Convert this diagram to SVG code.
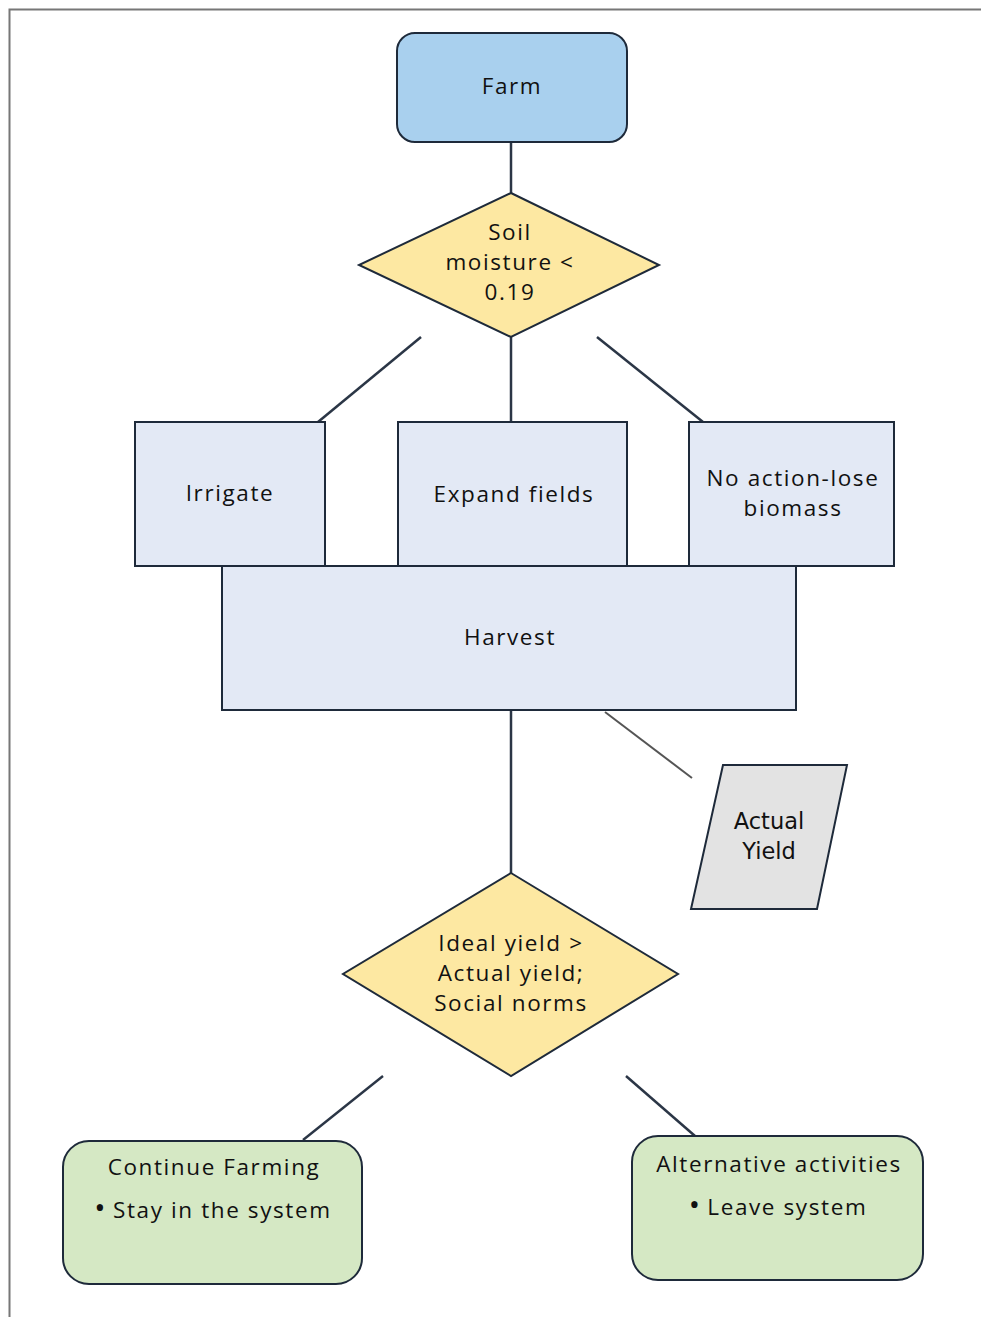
<svg xmlns="http://www.w3.org/2000/svg" width="981" height="1317" viewBox="0 0 981 1317">
<style>
.t{font-family:"Open Sans","Noto Sans","DejaVu Sans",sans-serif;font-size:22.5px;letter-spacing:1.6px;fill:#111;text-anchor:middle}
.d{font-family:"DejaVu Sans","Open Sans",sans-serif;font-size:22.5px;fill:#111;text-anchor:middle}
.b{font-size:30px;letter-spacing:0}
.box{fill:#e3e9f5;stroke:#1e2a3a;stroke-width:2}
.dia{fill:#fde8a2;stroke:#1e2a3a;stroke-width:2}
.grn{fill:#d5e8c4;stroke:#1e2a3a;stroke-width:2}
.ln{stroke:#2b3646;stroke-width:2.5;fill:none}
.ln2{stroke:#555;stroke-width:2;fill:none}
</style>
<rect width="981" height="1317" fill="#fff"/>
<path d="M9.5,1317 V9.5 H981" fill="none" stroke="#777" stroke-width="2"/>
<g id="connectors">
<line class="ln" x1="511" y1="142" x2="511" y2="193"/>
<line class="ln" x1="421" y1="337" x2="318" y2="422"/>
<line class="ln" x1="511" y1="337" x2="511" y2="422"/>
<line class="ln" x1="597" y1="337" x2="703" y2="422"/>
<line class="ln" x1="511" y1="710" x2="511" y2="873"/>
<line class="ln2" x1="605" y1="712" x2="692" y2="778"/>
<line class="ln" x1="383" y1="1076" x2="303" y2="1140"/>
<line class="ln" x1="626" y1="1076" x2="695" y2="1136"/>
</g>
<g id="farm">
<rect x="397" y="33" width="230" height="109" rx="18" fill="#a9d0ee" stroke="#1e2a3a" stroke-width="2"/>
<text class="t" x="512" y="94">Farm</text>
</g>
<g id="soil">
<polygon class="dia" points="511,193 659,265 511,337 359,265"/>
<text class="t" x="510" y="240">Soil</text>
<text class="t" x="510" y="270">moisture &lt;</text>
<text class="t" x="510" y="300">0.19</text>
</g>
<g id="irrigate">
<rect class="box" x="135" y="422" width="190" height="144"/>
<text class="t" x="230" y="501">Irrigate</text>
</g>
<g id="expand">
<rect class="box" x="398" y="422" width="229" height="144"/>
<text class="t" x="514" y="502">Expand fields</text>
</g>
<g id="noaction">
<rect class="box" x="689" y="422" width="205" height="144"/>
<text class="t" x="793" y="486">No action-lose</text>
<text class="t" x="793" y="516">biomass</text>
</g>
<g id="harvest">
<rect class="box" x="222" y="566" width="574" height="144"/>
<text class="t" x="510" y="645">Harvest</text>
</g>
<g id="actual">
<polygon points="723,765 847,765 817,909 691,909" fill="#e3e3e3" stroke="#1e2a3a" stroke-width="2"/>
<text class="d" x="769" y="829">Actual</text>
<text class="d" x="769" y="859">Yield</text>
</g>
<g id="ideal">
<polygon class="dia" points="511,873 678,974 511,1076 343,974"/>
<text class="t" x="511" y="951">Ideal yield &gt;</text>
<text class="t" x="511" y="981">Actual yield;</text>
<text class="t" x="511" y="1011">Social norms</text>
</g>
<g id="continue">
<rect class="grn" x="63" y="1141" width="299" height="143" rx="26"/>
<text class="t" x="214" y="1175">Continue Farming</text>
<text class="t" x="213" y="1218"><tspan class="b">•</tspan> Stay in the system</text>
</g>
<g id="alternative">
<rect class="grn" x="632" y="1136" width="291" height="144" rx="26"/>
<text class="t" x="779" y="1172">Alternative activities</text>
<text class="t" x="778" y="1215"><tspan class="b">•</tspan> Leave system</text>
</g>
</svg>
